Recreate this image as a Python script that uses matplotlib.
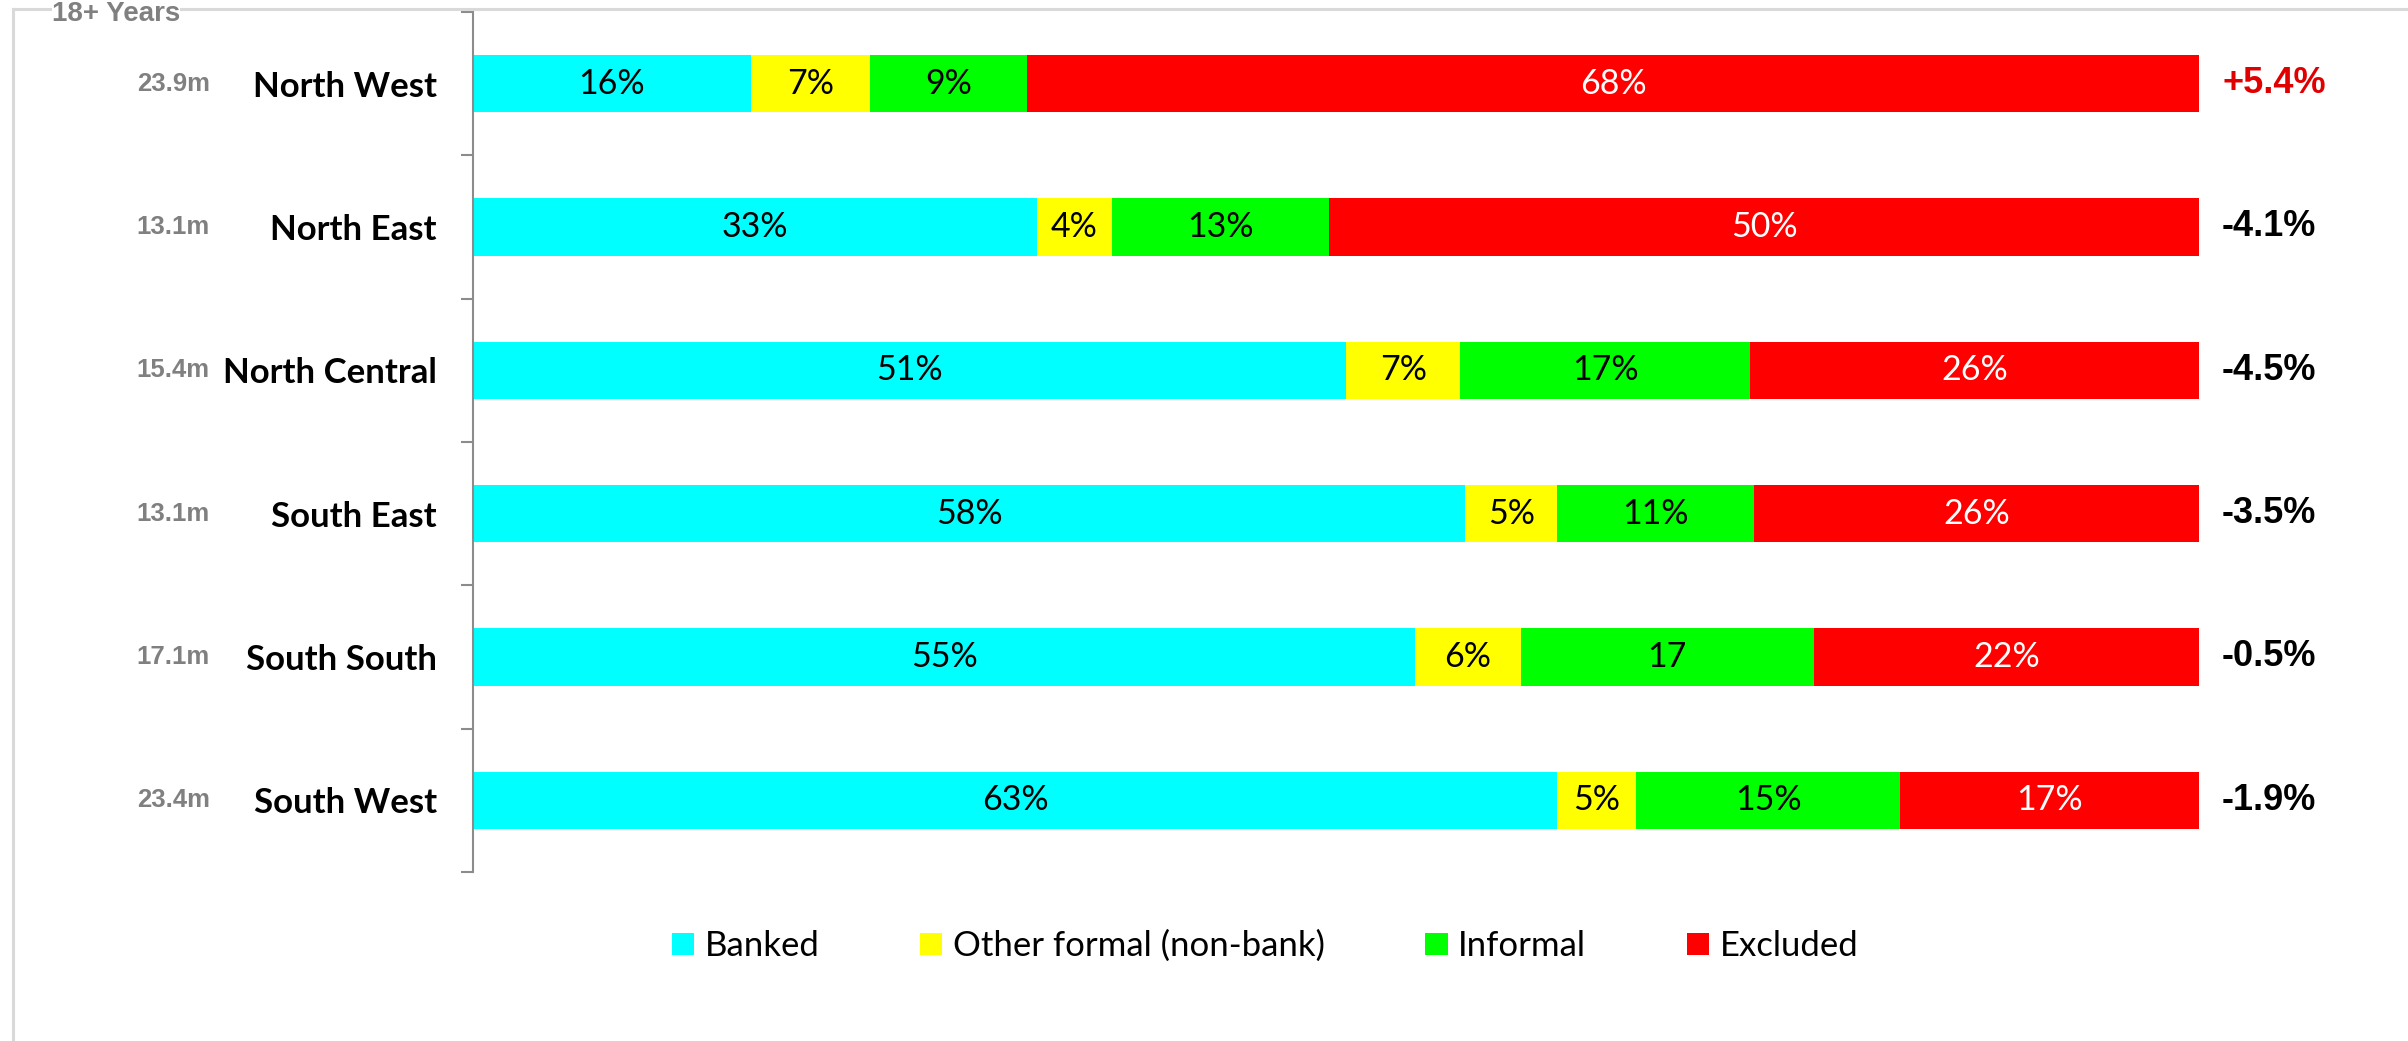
import matplotlib.pyplot as plt
from matplotlib.patches import Patch
from matplotlib.lines import Line2D
from matplotlib.transforms import blended_transform_factory
import numpy as np

# regions, top to bottom
regions = ['North West', 'North East', 'North Central', 'South East', 'South South', 'South West']
adults = ['23.9m', '13.1m', '15.4m', '13.1m', '17.1m', '23.4m']
change = ['+5.4%', '-4.1%', '-4.5%', '-3.5%', '-0.5%', '-1.9%']

# share of adults (%) in each access strand
banked = [16.1, 32.7, 50.6, 57.5, 54.6, 62.8]
other_formal = [6.9, 4.3, 6.6, 5.3, 6.1, 4.6]
informal = [9.1, 12.6, 16.8, 11.4, 17.0, 15.3]
excluded = [67.9, 50.4, 26.0, 25.8, 22.3, 17.3]

series = ['Banked', 'Other formal (non-bank)', 'Informal', 'Excluded']
colors = ['#00FFFF', '#FFFF00', '#00FF00', '#FF0000']
text_colors = ['black', 'black', 'black', 'white']

W, H = 2408, 1041
fig = plt.figure(figsize=(W / 100, H / 100), dpi=100)
ax = fig.add_axes([473 / W, 1 - 872 / H, (2199 - 473) / W, (872 - 12) / H])

y = np.arange(len(regions))
left = np.zeros(len(regions))
for name, vals, col, tcol in zip(series, [banked, other_formal, informal, excluded], colors, text_colors):
    vals = np.array(vals)
    ax.barh(y, vals, left=left, height=0.4, color=col, edgecolor='none')
    for yi, (l, v) in enumerate(zip(left, vals)):
        lab = f'{v:.0f}%'
        if name == 'Informal' and regions[yi] == 'South South':
            lab = f'{v:.0f}'
        ax.text(l + v / 2, yi, lab, ha='center', va='center', color=tcol,
                fontsize=24.5, family='Lato')
    left += vals

ax.set_xlim(0, 100)
ax.set_ylim(len(regions) - 0.5, -0.5)
ax.set_xticks([])
for s in ['top', 'right', 'bottom']:
    ax.spines[s].set_visible(False)
ax.spines['left'].set_color('#8c8c8c')
ax.spines['left'].set_linewidth(1.5)

# region names sit between the boundary ticks
ax.set_yticks(y)
ax.set_yticklabels(regions, fontsize=25, fontweight='bold', family='Lato')
ax.tick_params(axis='y', which='major', length=0, pad=26)
ax.set_yticks(np.arange(len(regions) + 1) - 0.5, minor=True)
ax.tick_params(axis='y', which='minor', length=8.6, width=1.5, color='#8c8c8c')

side = blended_transform_factory(fig.transFigure, ax.transData)
for yi in y:
    ax.text(210 / W, yi, adults[yi], transform=side,
            ha='right', va='center', fontsize=18.5, fontweight='bold',
            color='#808080', family='Liberation Sans')
    col = '#E00000' if change[yi].startswith('+') else 'black'
    ax.text(2222 / W, yi, change[yi], transform=side,
            ha='left', va='center', fontsize=26, fontweight='bold',
            color=col, family='Liberation Sans')

# outer frame
fig.add_artist(Line2D([12.5 / W, 12.5 / W], [0, 1 - 9 / H], color='#d9d9d9', lw=2.2, transform=fig.transFigure))
fig.add_artist(Line2D([12.5 / W, 1], [1 - 9 / H, 1 - 9 / H], color='#d9d9d9', lw=2.2, transform=fig.transFigure))
fig.text(52 / W, 1 - 21 / H, '18+ Years', ha='left', va='baseline', fontsize=20,
         fontweight='bold', color='#808080', family='Liberation Sans',
         bbox=dict(facecolor='white', edgecolor='none', pad=0))

handles = [Patch(facecolor=c, edgecolor='none') for c in colors]
fig.legend(handles, series, loc='center', bbox_to_anchor=(1265 / W, 95 / H), ncol=4,
           frameon=False, prop={'family': 'Lato', 'size': 25},
           handlelength=0.64, handleheight=0.62, handletextpad=0.3, columnspacing=2.9)

fig.savefig('out.png', dpi=100)
